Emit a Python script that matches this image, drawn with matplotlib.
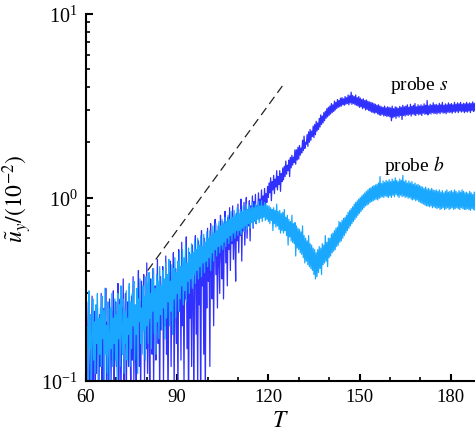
import numpy as np
import matplotlib.pyplot as plt
from matplotlib.ticker import MultipleLocator, LogLocator, NullFormatter

plt.rcParams['font.family'] = ['Liberation Serif', 'DejaVu Serif']
plt.rcParams['mathtext.fontset'] = 'stix'

# sampled every 0.25 time units starting at T = 60 (one row = 5 units)
T_START = 60.0
T_STEP = 0.25

probe_s = [
    0.22, 0.08, 0.15, 0.27, 0.10, 0.06, 0.19, 0.13, 0.29, 0.09, 0.17, 0.24, 0.07, 0.20, 0.11, 0.26, 0.14, 0.08, 0.23, 0.12,
    0.30, 0.10, 0.18, 0.07, 0.25, 0.15, 0.32, 0.09, 0.21, 0.12, 0.06, 0.28, 0.17, 0.10, 0.24, 0.13, 0.31, 0.08, 0.19, 0.27,
    0.12, 0.22, 0.34, 0.09, 0.17, 0.28, 0.07, 0.25, 0.14, 0.36, 0.10, 0.21, 0.30, 0.08, 0.19, 0.27, 0.12, 0.33, 0.16, 0.09,
    0.29, 0.13, 0.37, 0.10, 0.24, 0.18, 0.06, 0.31, 0.21, 0.40, 0.12, 0.27, 0.08, 0.35, 0.17, 0.23, 0.38, 0.10, 0.26, 0.15,
    0.44, 0.11, 0.30, 0.20, 0.07, 0.36, 0.25, 0.14, 0.41, 0.09, 0.28, 0.33, 0.13, 0.22, 0.46, 0.16, 0.30, 0.08, 0.37, 0.19,
    0.26, 0.42, 0.10, 0.33, 0.20, 0.48, 0.14, 0.29, 0.07, 0.39, 0.23, 0.45, 0.12, 0.35, 0.18, 0.50, 0.09, 0.30, 0.41, 0.16,
    0.36, 0.08, 0.52, 0.24, 0.40, 0.13, 0.57, 0.20, 0.34, 0.10, 0.46, 0.28, 0.61, 0.15, 0.42, 0.06, 0.50, 0.22, 0.38, 0.12,
    0.55, 0.30, 0.07, 0.48, 0.62, 0.18, 0.40, 0.09, 0.58, 0.26, 0.44, 0.06, 0.66, 0.33, 0.50, 0.14, 0.60, 0.08, 0.45, 0.25,
    0.68, 0.35, 0.52, 0.12, 0.72, 0.42, 0.28, 0.64, 0.20, 0.56, 0.76, 0.38, 0.60, 0.25, 0.70, 0.45, 0.30, 0.80, 0.50, 0.36,
    0.74, 0.28, 0.62, 0.84, 0.44, 0.70, 0.33, 0.78, 0.52, 0.88, 0.40, 0.68, 0.56, 0.90, 0.46, 0.74, 0.60, 0.35, 0.82, 0.58,
    0.92, 0.50, 0.75, 0.62, 0.98, 0.45, 0.82, 0.66, 0.94, 0.55, 0.78, 1.00, 0.60, 0.86, 0.70, 0.96, 0.58, 0.90, 0.74, 1.02,
    0.68, 0.95, 0.80, 1.04, 0.72, 0.90, 0.82, 1.06, 0.76, 0.98, 0.86, 1.10, 0.80, 1.02, 0.88, 1.12, 0.90, 1.05, 0.94, 1.15,
    1.00, 1.20, 1.06, 1.28, 0.96, 1.22, 1.10, 1.32, 1.05, 1.26, 1.14, 1.40, 1.10, 1.30, 1.18, 1.40, 1.08, 1.35, 1.22, 1.45,
    1.25, 1.48, 1.30, 1.58, 1.34, 1.50, 1.40, 1.60, 1.30, 1.65, 1.45, 1.70, 1.50, 1.66, 1.55, 1.82, 1.52, 1.82, 1.60, 1.88,
    1.62, 1.92, 1.70, 1.86, 1.75, 2.05, 1.80, 2.16, 1.85, 2.00, 1.95, 2.20, 1.90, 2.28, 2.00, 2.35, 2.05, 2.30, 2.15, 2.45,
    2.12, 2.50, 2.20, 2.60, 2.30, 2.55, 2.35, 2.70, 2.42, 2.82, 2.50, 2.78, 2.55, 2.90, 2.62, 2.95, 2.70, 3.05, 2.75, 3.10,
    2.80, 3.15, 2.85, 3.25, 2.90, 3.20, 2.95, 3.35, 3.00, 3.30, 3.05, 3.42, 3.10, 3.38, 3.12, 3.48, 3.15, 3.50, 3.20, 3.45,
    3.18, 3.55, 3.22, 3.50, 3.25, 3.62, 3.20, 3.58, 3.28, 3.75, 3.22, 3.60, 3.25, 3.55, 3.20, 3.62, 3.18, 3.50, 3.15, 3.55,
    3.10, 3.48, 3.12, 3.42, 3.05, 3.45, 3.08, 3.38, 3.00, 3.40, 3.02, 3.35, 2.98, 3.32, 2.95, 3.30, 2.92, 3.28, 2.90, 3.25,
    2.88, 3.22, 2.90, 3.18, 2.85, 3.20, 2.82, 3.15, 2.80, 3.12, 2.84, 3.10, 2.78, 3.15, 2.80, 3.08, 2.76, 3.12, 2.78, 3.10,
    2.75, 3.08, 2.62, 3.15, 2.72, 3.05, 2.76, 3.12, 2.70, 3.10, 2.78, 3.06, 2.74, 3.14, 2.80, 3.10, 2.66, 3.18, 2.80, 3.12,
    2.78, 3.15, 2.82, 3.20, 2.80, 3.10, 2.84, 3.22, 2.78, 3.14, 2.85, 3.18, 2.82, 3.25, 2.80, 3.12, 2.86, 3.20, 2.82, 3.15,
    2.85, 3.20, 2.80, 3.15, 2.88, 3.24, 2.84, 3.18, 2.86, 3.38, 2.82, 3.16, 2.88, 3.22, 2.85, 3.18, 2.90, 3.28, 2.86, 3.20,
    2.88, 3.22, 2.85, 3.18, 2.90, 3.26, 2.86, 3.20, 2.92, 3.30, 2.88, 3.18, 2.90, 3.24, 2.86, 3.20, 2.92, 3.28, 2.90, 3.22,
    2.92, 3.25, 2.88, 3.20, 2.94, 3.30, 2.90, 3.22, 2.95, 3.28, 2.90, 3.24, 2.96, 3.30, 2.92, 3.22, 2.95, 3.26, 2.90, 3.24,
    2.94, 3.30, 2.92, 3.24, 2.96, 3.28, 2.90, 3.25, 2.98, 3.32, 2.94, 3.26, 2.96, 3.30, 2.92, 3.24, 2.95, 3.28, 2.93, 3.25,
]

probe_b = [
    0.27, 0.12, 0.20, 0.10, 0.31, 0.15, 0.23, 0.09, 0.18, 0.28, 0.13, 0.21, 0.11, 0.26, 0.16, 0.30, 0.10, 0.22, 0.14, 0.25,
    0.12, 0.29, 0.17, 0.24, 0.10, 0.32, 0.14, 0.20, 0.11, 0.27, 0.18, 0.09, 0.25, 0.15, 0.30, 0.12, 0.22, 0.16, 0.28, 0.13,
    0.23, 0.10, 0.30, 0.17, 0.26, 0.12, 0.33, 0.19, 0.14, 0.28, 0.11, 0.24, 0.16, 0.31, 0.13, 0.22, 0.18, 0.34, 0.12, 0.27,
    0.15, 0.30, 0.20, 0.35, 0.13, 0.26, 0.18, 0.32, 0.11, 0.28, 0.21, 0.36, 0.16, 0.25, 0.14, 0.33, 0.19, 0.29, 0.13, 0.37,
    0.20, 0.34, 0.16, 0.39, 0.22, 0.30, 0.15, 0.36, 0.24, 0.41, 0.18, 0.32, 0.14, 0.38, 0.21, 0.35, 0.17, 0.42, 0.23, 0.33,
    0.19, 0.40, 0.25, 0.36, 0.17, 0.44, 0.22, 0.38, 0.27, 0.46, 0.20, 0.35, 0.24, 0.43, 0.18, 0.41, 0.28, 0.47, 0.22, 0.39,
    0.30, 0.45, 0.24, 0.50, 0.28, 0.42, 0.33, 0.52, 0.26, 0.47, 0.31, 0.55, 0.27, 0.44, 0.35, 0.53, 0.30, 0.49, 0.36, 0.56,
    0.32, 0.50, 0.38, 0.58, 0.34, 0.52, 0.40, 0.60, 0.36, 0.55, 0.42, 0.62, 0.37, 0.54, 0.44, 0.63, 0.39, 0.57, 0.45, 0.65,
    0.42, 0.60, 0.47, 0.66, 0.40, 0.62, 0.50, 0.70, 0.45, 0.64, 0.52, 0.72, 0.48, 0.66, 0.54, 0.74, 0.50, 0.70, 0.55, 0.76,
    0.52, 0.72, 0.57, 0.78, 0.54, 0.74, 0.60, 0.80, 0.56, 0.76, 0.62, 0.84, 0.58, 0.78, 0.64, 0.85, 0.60, 0.80, 0.66, 0.88,
    0.62, 0.82, 0.66, 0.86, 0.63, 0.84, 0.68, 0.90, 0.65, 0.85, 0.70, 0.92, 0.67, 0.86, 0.72, 0.90, 0.68, 0.88, 0.73, 0.94,
    0.70, 0.88, 0.74, 0.92, 0.72, 0.90, 0.76, 0.95, 0.73, 0.90, 0.77, 0.96, 0.74, 0.90, 0.78, 0.94, 0.75, 0.92, 0.76, 0.90,
    0.74, 0.90, 0.72, 0.88, 0.75, 0.86, 0.66, 0.88, 0.72, 0.85, 0.69, 0.92, 0.70, 0.84, 0.67, 0.85, 0.64, 0.82, 0.66, 0.83,
    0.64, 0.86, 0.66, 0.78, 0.62, 0.80, 0.55, 0.76, 0.61, 0.74, 0.58, 0.80, 0.57, 0.72, 0.56, 0.73, 0.48, 0.70, 0.53, 0.68,
    0.52, 0.67, 0.50, 0.65, 0.49, 0.70, 0.47, 0.62, 0.44, 0.60, 0.45, 0.58, 0.43, 0.62, 0.42, 0.56, 0.41, 0.55, 0.40, 0.53,
    0.38, 0.52, 0.36, 0.50, 0.37, 0.52, 0.39, 0.54, 0.41, 0.53, 0.38, 0.56, 0.43, 0.55, 0.44, 0.62, 0.45, 0.57, 0.42, 0.60,
    0.47, 0.60, 0.48, 0.63, 0.50, 0.64, 0.51, 0.66, 0.52, 0.68, 0.54, 0.69, 0.55, 0.74, 0.57, 0.73, 0.58, 0.75, 0.60, 0.77,
    0.62, 0.78, 0.64, 0.80, 0.66, 0.83, 0.68, 0.85, 0.70, 0.87, 0.72, 0.89, 0.74, 0.92, 0.76, 0.94, 0.78, 0.96, 0.80, 0.98,
    0.82, 1.00, 0.84, 1.02, 0.86, 1.04, 0.88, 1.06, 0.90, 1.08, 0.91, 1.10, 0.92, 1.12, 0.94, 1.13, 0.95, 1.15, 0.96, 1.16,
    0.97, 1.17, 0.98, 1.18, 0.97, 1.20, 0.99, 1.30, 1.00, 1.19, 1.01, 1.23, 1.00, 1.21, 1.02, 1.24, 1.01, 1.22, 1.00, 1.25,
    1.02, 1.22, 1.00, 1.26, 1.03, 1.23, 1.01, 1.28, 1.04, 1.24, 1.02, 1.22, 1.00, 1.26, 1.03, 1.24, 1.01, 1.32, 1.02, 1.22,
    1.00, 1.24, 1.01, 1.20, 0.99, 1.23, 1.00, 1.20, 0.98, 1.22, 0.97, 1.18, 0.98, 1.20, 0.96, 1.17, 0.97, 1.18, 0.95, 1.16,
    0.94, 1.15, 0.93, 1.14, 0.92, 1.12, 0.91, 1.14, 0.90, 1.11, 0.90, 1.12, 0.89, 1.10, 0.90, 1.12, 0.88, 1.10, 0.89, 1.09,
    0.88, 1.10, 0.87, 1.08, 0.88, 1.10, 0.86, 1.07, 0.87, 1.09, 0.88, 1.06, 0.86, 1.08, 0.87, 1.10, 0.88, 1.07, 0.86, 1.08,
    0.87, 1.09, 0.88, 1.07, 0.86, 1.10, 0.87, 1.08, 0.88, 1.06, 0.87, 1.09, 0.86, 1.07, 0.88, 1.10, 0.87, 1.08, 0.86, 1.06,
    0.86, 1.07, 0.87, 1.05, 0.86, 1.08, 0.85, 1.06, 0.87, 1.04, 0.86, 1.07, 0.85, 1.05, 0.87, 1.06, 0.86, 1.05, 0.85, 1.04,
]

# growth-rate guide line (end points)
guide_T = [80.3, 124.6]
guide_u = [0.40, 4.05]

T_s = T_START + T_STEP * np.arange(len(probe_s))
T_b = T_START + T_STEP * np.arange(len(probe_b))

fig = plt.figure(figsize=(4.75, 4.39), dpi=100)
ax = fig.add_axes([86 / 475, 57 / 439, 389 / 475, 367 / 439])

ax.plot(T_s, probe_s, color='#3030FF', lw=0.9)
ax.plot(T_b, probe_b, color='#1AA8FF', lw=0.9)
ax.plot(guide_T, guide_u, color='#222222', lw=0.9, dashes=(7, 4))

ax.text(169.5, 4.15, 'probe $s$', ha='center', va='center', fontsize=14)
ax.text(168.0, 1.52, 'probe $b$', ha='center', va='center', fontsize=14)

ax.set_yscale('log')
ax.set_xlim(60, 188)
ax.set_ylim(0.1, 10)

ax.xaxis.set_major_locator(MultipleLocator(30))
ax.xaxis.set_minor_locator(MultipleLocator(10))
ax.yaxis.set_major_locator(LogLocator(base=10))
ax.yaxis.set_minor_locator(LogLocator(base=10, subs=np.arange(2, 10)))
ax.yaxis.set_minor_formatter(NullFormatter())

for side in ['top', 'right']:
    ax.spines[side].set_visible(False)
for side in ['left', 'bottom']:
    ax.spines[side].set_linewidth(1.5)

ax.tick_params(which='major', direction='in', length=5, width=1.5, labelsize=13.5)
ax.tick_params(axis='x', which='major', pad=5)
ax.tick_params(axis='y', which='major', pad=6, labelsize=14.5)
ax.tick_params(which='minor', direction='in', length=3, width=1.2)

ax.set_xlabel('$T$', fontsize=17, labelpad=4)
ax.set_ylabel(r'$\tilde{u}_y/(10^{-2})$', fontsize=17, labelpad=5)

fig.savefig('out.png', dpi=100)
